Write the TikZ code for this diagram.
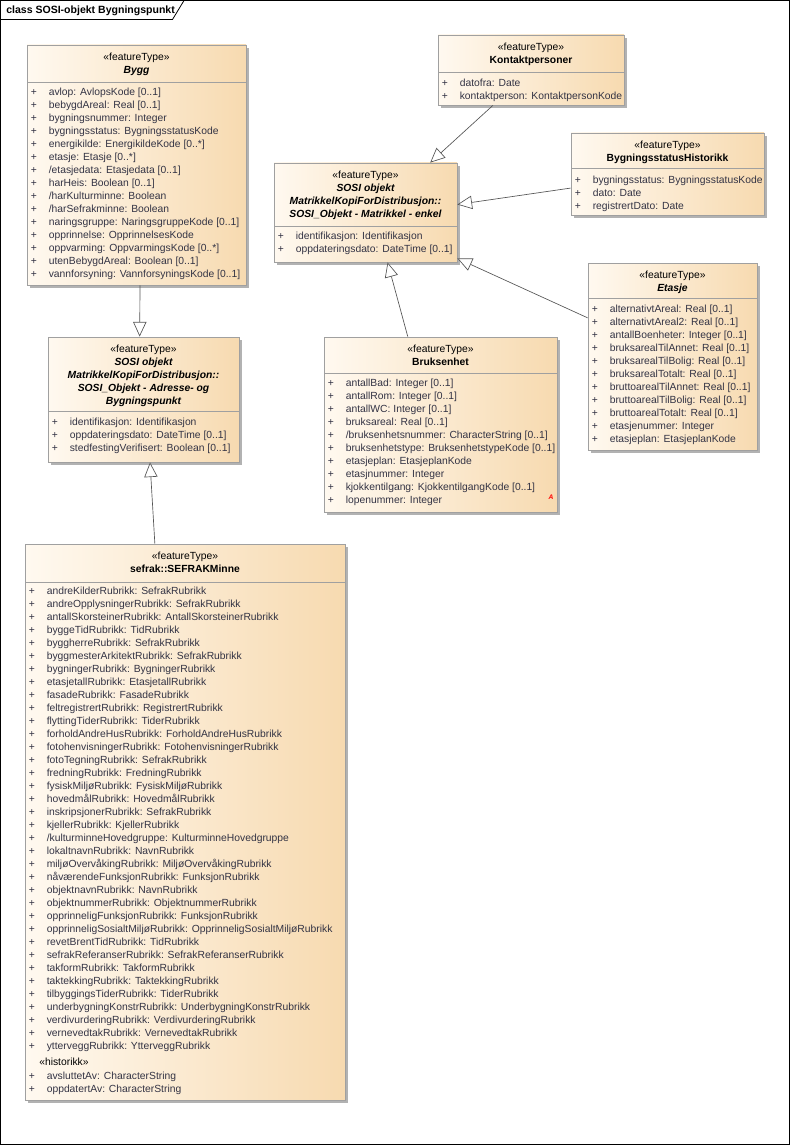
\documentclass[tikz,border=0pt]{standalone}
\usepackage{fontspec}
\setmainfont{Liberation Sans}
\usetikzlibrary{arrows.meta,shadows,fit,calc}
\definecolor{boxL}{HTML}{FFF9F0}
\definecolor{boxR}{HTML}{F7DAB0}
\definecolor{bord}{HTML}{A0A0A0}
\definecolor{attrc}{HTML}{333344}
\definecolor{linec}{HTML}{555555}
\tikzset{
 cls/.style={draw=bord, line width=0.6pt, left color=boxL, right color=boxR, inner sep=0pt,
   drop shadow={shadow xshift=2.5pt, shadow yshift=-2.5pt, fill=black!30, opacity=1}},
 txt/.style={inner sep=0pt, font=\fontsize{7.75}{9}\selectfont},
 hd/.style={txt, anchor=base, yshift=-2.8pt},
 hdb/.style={hd, font=\fontsize{7.75}{9}\selectfont\bfseries},
 hdbi/.style={hd, font=\fontsize{7.75}{9}\selectfont\bfseries\itshape},
 attr/.style={txt, anchor=base west, yshift=-2.8pt, text=attrc},
 plus/.style={txt, anchor=base, yshift=-2.8pt, text=attrc},
 gen/.style={draw=linec, line width=0.5pt, -{Triangle[open, length=11pt, width=10pt, fill=white]}},
}
\newcommand\umlcls[6]{%
 \node[cls, fit={(#2,#3)(#4,#5)}] (#1) {};
 \draw[bord, line width=0.6pt] (#2,#6) -- (#4,#6);
}
\newcommand\attrs[3]{%
 \foreach \aline [count=\i from 0] in {#3}{%
   \node[plus] at (#1+7,{#2+13*\i}) {+};
   \node[attr] at (#1+21.5,{#2+13*\i}) {\aline};
 }}
\begin{document}
\begin{tikzpicture}[x=0.75pt,y=-0.75pt]
\useasboundingbox (0,0) rectangle (790,1145);
% frame
\node[fit={(0.5,0.5)(789.5,1144.5)}, draw, inner sep=0pt, line width=0.6pt] (frame) {};
\coordinate (tabA) at (0.5,19.5);
\coordinate (tabB) at (172.5,19.5);
\coordinate (tabC) at (184,0.5);
\draw[line width=0.6pt] (tabA) -- (tabB) -- (tabC);
\node[txt, anchor=base west, font=\fontsize{7.9}{9}\selectfont\bfseries] (title) at (6,13.5) {class SOSI-objekt Bygningspunkt};

% Bygg
\umlcls{bygg}{27}{45}{246}{285}{82}
\node[hd] at (136.5,57) {«featureType»};
\node[hdbi] at (136.5,70) {Bygg};
\attrs{27}{92}{avlop: AvlopsKode [0..1],bebygdAreal: Real [0..1],bygningsnummer: Integer,bygningsstatus: BygningsstatusKode,energikilde: EnergikildeKode [0..*],etasje: Etasje [0..*],/etasjedata: Etasjedata [0..1],harHeis: Boolean [0..1],/harKulturminne: Boolean,/harSefrakminne: Boolean,naringsgruppe: NaringsgruppeKode [0..1],opprinnelse: OpprinnelsesKode,oppvarming: OppvarmingsKode [0..*],utenBebygdAreal: Boolean [0..1],vannforsyning: VannforsyningsKode [0..1]}

% Kontaktpersoner
\umlcls{kont}{438}{35}{624}{105}{72}
\node[hd] at (531,47) {«featureType»};
\node[hdb] at (531,60) {Kontaktpersoner};
\attrs{438}{83}{datofra: Date,kontaktperson: KontaktpersonKode}

% BygningsstatusHistorikk
\umlcls{bsh}{571}{133}{764}{215}{168}
\node[hd] at (667.5,145) {«featureType»};
\node[hdb] at (667.5,158) {BygningsstatusHistorikk};
\attrs{571}{180}{bygningsstatus: BygningsstatusKode,dato: Date,registrertDato: Date}

% SOSI enkel
\umlcls{enkel}{274}{163}{457}{262}{226}
\node[hd] at (365.5,175) {«featureType»};
\node[hdbi] at (365.5,188) {SOSI objekt};
\node[hdbi] at (365.5,201) {MatrikkelKopiForDistribusjon::};
\node[hdbi] at (365.5,214) {SOSI\_Objekt - Matrikkel - enkel};
\attrs{274}{236}{identifikasjon: Identifikasjon,oppdateringsdato: DateTime [0..1]}

% Etasje
\umlcls{etasje}{588}{263}{757}{450}{298}
\node[hd] at (672.5,275) {«featureType»};
\node[hdbi] at (672.5,288) {Etasje};
\attrs{588}{309}{alternativtAreal: Real [0..1],alternativtAreal2: Real [0..1],antallBoenheter: Integer [0..1],bruksarealTilAnnet: Real [0..1],bruksarealTilBolig: Real [0..1],bruksarealTotalt: Real [0..1],bruttoarealTilAnnet: Real [0..1],bruttoarealTilBolig: Real [0..1],bruttoarealTotalt: Real [0..1],etasjenummer: Integer,etasjeplan: EtasjeplanKode}

% Bruksenhet
\umlcls{bruk}{324}{337}{557}{512}{373}
\node[hd] at (440.5,349) {«featureType»};
\node[hdb] at (440.5,362) {Bruksenhet};
\attrs{324}{383}{antallBad: Integer [0..1],antallRom: Integer [0..1],antallWC: Integer [0..1],bruksareal: Real [0..1],/bruksenhetsnummer: CharacterString [0..1],bruksenhetstype: BruksenhetstypeKode [0..1],etasjeplan: EtasjeplanKode,etasjnummer: Integer,kjokkentilgang: KjokkentilgangKode [0..1],lopenummer: Integer}
\node[txt, text=red, font=\fontsize{5}{6}\selectfont\bfseries\itshape] (abs) at (551,497) {A};

% SOSI Adresse
\umlcls{adr}{48}{337}{239}{462}{411}
\node[hd] at (143.5,349) {«featureType»};
\node[hdbi] at (143.5,362) {SOSI objekt};
\node[hdbi] at (143.5,375) {MatrikkelKopiForDistribusjon::};
\node[hdbi] at (143.5,388) {SOSI\_Objekt - Adresse- og};
\node[hdbi] at (143.5,401) {Bygningspunkt};
\attrs{48}{422}{identifikasjon: Identifikasjon,oppdateringsdato: DateTime [0..1],stedfestingVerifisert: Boolean [0..1]}

% SEFRAKMinne
\umlcls{sefrak}{25}{544}{345}{1100}{582}
\node[hd] at (185,556) {«featureType»};
\node[hdb] at (185,569) {sefrak::SEFRAKMinne};
\attrs{25}{591}{andreKilderRubrikk: SefrakRubrikk,andreOpplysningerRubrikk: SefrakRubrikk,antallSkorsteinerRubrikk: AntallSkorsteinerRubrikk,byggeTidRubrikk: TidRubrikk,byggherreRubrikk: SefrakRubrikk,byggmesterArkitektRubrikk: SefrakRubrikk,bygningerRubrikk: BygningerRubrikk,etasjetallRubrikk: EtasjetallRubrikk,fasadeRubrikk: FasadeRubrikk,feltregistrertRubrikk: RegistrertRubrikk,flyttingTiderRubrikk: TiderRubrikk,forholdAndreHusRubrikk: ForholdAndreHusRubrikk,fotohenvisningerRubrikk: FotohenvisningerRubrikk,fotoTegningRubrikk: SefrakRubrikk,fredningRubrikk: FredningRubrikk,fysiskMiljøRubrikk: FysiskMiljøRubrikk,hovedmålRubrikk: HovedmålRubrikk,inskripsjonerRubrikk: SefrakRubrikk,kjellerRubrikk: KjellerRubrikk,/kulturminneHovedgruppe: KulturminneHovedgruppe,lokaltnavnRubrikk: NavnRubrikk,miljøOvervåkingRubrikk: MiljøOvervåkingRubrikk,nåværendeFunksjonRubrikk: FunksjonRubrikk,objektnavnRubrikk: NavnRubrikk,objektnummerRubrikk: ObjektnummerRubrikk,opprinneligFunksjonRubrikk: FunksjonRubrikk,opprinneligSosialtMiljøRubrikk: OpprinneligSosialtMiljøRubrikk,revetBrentTidRubrikk: TidRubrikk,sefrakReferanserRubrikk: SefrakReferanserRubrikk,takformRubrikk: TakformRubrikk,taktekkingRubrikk: TaktekkingRubrikk,tilbyggingsTiderRubrikk: TiderRubrikk,underbygningKonstrRubrikk: UnderbygningKonstrRubrikk,verdivurderingRubrikk: VerdivurderingRubrikk,vernevedtakRubrikk: VernevedtakRubrikk,ytterveggRubrikk: YtterveggRubrikk}
\node[txt, anchor=base west, yshift=-2.8pt] (hist) at (39,1062) {«historikk»};
\attrs{25}{1076}{avsluttetAv: CharacterString,oppdatertAv: CharacterString}

% generalizations
\draw[gen] ($(bygg.south west)!0.516!(bygg.south east)$) -- ($(adr.north west)!0.48!(adr.north east)$);
\draw[gen] ($(sefrak.north west)!0.406!(sefrak.north east)$) -- ($(adr.south west)!0.534!(adr.south east)$);
\draw[gen] ($(kont.south west)!0.296!(kont.south east)$) -- ($(enkel.north west)!0.852!(enkel.north east)$);
\draw[gen] ($(bsh.north west)!0.67!(bsh.south west)$) -- ($(enkel.north east)!0.42!(enkel.south east)$);
\draw[gen] ($(etasje.north west)!0.294!(etasje.south west)$) -- ($(enkel.north east)!0.96!(enkel.south east)$);
\draw[gen] ($(bruk.north west)!0.36!(bruk.north east)$) -- ($(enkel.south west)!0.62!(enkel.south east)$);
\end{tikzpicture}
\end{document}
